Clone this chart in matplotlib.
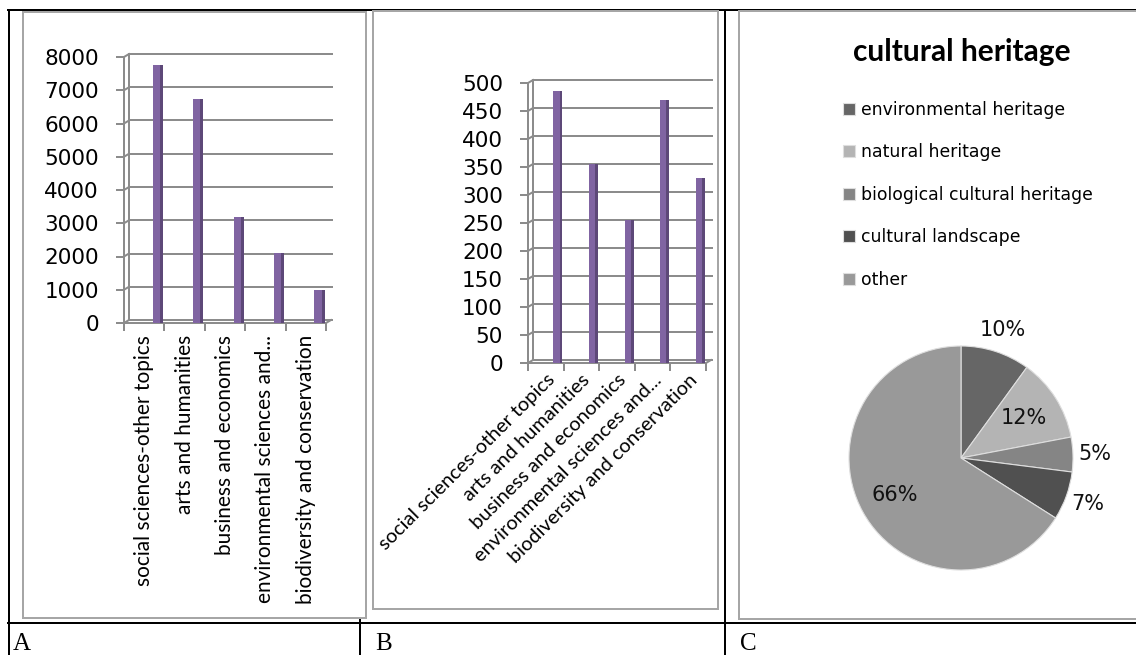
import matplotlib
matplotlib.use("Agg")
import matplotlib.pyplot as plt
from matplotlib.patches import Rectangle
from matplotlib.lines import Line2D
import numpy as np

# ---------------- data ----------------
categories = ["social sciences-other topics", "arts and humanities",
              "business and economics", "environmental sciences and...",
              "biodiversity and conservation"]
values_a = [7750, 6750, 3200, 2100, 1000]
values_b = [485, 355, 255, 470, 330]
yticks_a = [0, 1000, 2000, 3000, 4000, 5000, 6000, 7000, 8000]
yticks_b = [0, 50, 100, 150, 200, 250, 300, 350, 400, 450, 500]

pie_title = "cultural heritage"
pie_labels = ["environmental heritage", "natural heritage",
              "biological cultural heritage", "cultural landscape", "other"]
pie_values = [10, 12, 5, 7, 66]
pie_colors = ["#666666", "#b4b4b4", "#858585", "#505050", "#999999"]
pie_label_radius = [1.2, 0.66, 1.2, 1.2, 0.68]

panel_letters = ["A", "B", "C"]

# ---------------- layout helpers ----------------
W, H = 1136, 655
fig = plt.figure(figsize=(W / 100, H / 100), dpi=100)
fig.patch.set_facecolor("white")


def fx(x):
    return x / W


def fy(y):
    return 1 - y / H


def rect(l, t, r, b):
    return [l / W, 1 - b / H, (r - l) / W, (b - t) / H]


PT = 0.72  # points per pixel at dpi 100
GRID = "#8c8c8c"
FRAME = "#a6a6a6"

# ---------------- table lines ----------------
tbl = dict(color="black", lw=2 * PT, zorder=-5, transform=fig.transFigure)
fig.add_artist(Line2D([fx(8), fx(W)], [fy(10), fy(10)], **tbl))
fig.add_artist(Line2D([fx(9), fx(9)], [fy(10), fy(H)], **tbl))
fig.add_artist(Line2D([fx(360), fx(360)], [fy(10), fy(H)], **tbl))
fig.add_artist(Line2D([fx(725), fx(725)], [fy(10), fy(H)], **tbl))
fig.add_artist(Line2D([fx(8), fx(W)], [fy(623), fy(623)], **tbl))

# chart frames (white, gray edge)
for (l, t, r, b) in [(23, 12, 366, 618), (373, 11, 718, 609), (739, 11, W + 5, 619)]:
    fig.add_artist(Rectangle((fx(l), fy(b)), (r - l) / W, (b - t) / H,
                             transform=fig.transFigure, facecolor="white",
                             edgecolor=FRAME, lw=2 * PT, zorder=-4))

# panel letters
for letter, x in zip(panel_letters, [13, 375, 740]):
    fig.text(fx(x), fy(650), letter, family="Liberation Serif", fontsize=18,
             ha="left", va="baseline")


# ---------------- 3D-look bar panels ----------------
def bar_panel(box, values, yticks, rot):
    l, t, r, b = box
    ax = fig.add_axes(rect(l, t, r, b))
    ax.patch.set_alpha(0)
    n = len(values)
    x = np.arange(n)
    ymax = yticks[-1]
    ax.set_xlim(-0.5, n - 0.5)
    ax.set_ylim(0, ymax)
    # depth offset in data units (5 px right, 3 px up)
    dx = 5 / ((r - l) / n)
    dy = 3 / ((b - t) / ymax)
    # back wall gridlines
    for v in yticks:
        ax.plot([-0.5 + dx, n - 0.5 + dx + 0.03], [v + dy, v + dy], color=GRID,
                lw=2 * PT, clip_on=False, zorder=1)
        ax.plot([-0.5, -0.5 + dx], [v, v + dy], color=GRID, lw=2 * PT,
                clip_on=False, zorder=1)
    ax.plot([-0.5 + dx, -0.5 + dx], [dy, ymax + dy], color=GRID, lw=2 * PT,
            clip_on=False, zorder=1)
    ax.plot([n - 0.5, n - 0.5 + dx], [0, dy], color=GRID, lw=2 * PT,
            clip_on=False, zorder=1)
    # front axis lines via spines
    for s in ["top", "right"]:
        ax.spines[s].set_visible(False)
    for s in ["left", "bottom"]:
        ax.spines[s].set_color(GRID)
        ax.spines[s].set_linewidth(2 * PT)
    # bars (front face + darker side)
    w = 0.25
    off = 0.34
    ax.bar(x + off - w / 2, values, width=w * 0.7, align="edge",
           color="#8064A2", zorder=3, clip_on=False)
    ax.bar(x + off - w / 2 + w * 0.7, values, width=w * 0.3, align="edge",
           color="#5D4878", zorder=3, clip_on=False)
    # ticks
    ax.set_yticks(yticks)
    ax.set_yticklabels([str(v) for v in yticks])
    ax.tick_params(axis="y", length=8 * PT, width=2 * PT, color=GRID,
                   pad=17 * PT, labelsize=15.5, labelcolor="black")
    for lab in ax.get_yticklabels():
        lab.set_family("DejaVu Sans")
    ax.set_xticks(x)
    ax.set_xticks(np.arange(n + 1) - 0.5, minor=True)
    ax.tick_params(axis="x", which="major", length=0, pad=12 * PT)
    ax.tick_params(axis="x", which="minor", length=8 * PT, width=2 * PT,
                   color=GRID)
    if rot == 90:
        ax.set_xticklabels(categories, rotation=90, ha="center", va="top",
                           family="Lato", fontsize=15)
    else:
        ax.set_xticklabels(categories, rotation=45, ha="right", va="top",
                           rotation_mode="anchor", family="Lato", fontsize=14.4)
        ax.tick_params(axis="x", which="major", pad=8 * PT)
    return ax


bar_panel((124, 57, 326, 323), values_a, yticks_a, 90)
bar_panel((528, 83, 706, 363), values_b, yticks_b, 45)

# ---------------- pie panel ----------------
axp = fig.add_axes(rect(849, 346, 1073, 570))
wedges, _ = axp.pie(pie_values, colors=pie_colors, startangle=90,
                    counterclock=False, radius=1,
                    wedgeprops=dict(edgecolor="#dedede", linewidth=0.8))
axp.set_xlim(-1, 1)
axp.set_ylim(-1, 1)
for wdg, v, rr in zip(wedges, pie_values, pie_label_radius):
    ang = np.deg2rad((wdg.theta1 + wdg.theta2) / 2)
    axp.text(rr * np.cos(ang), rr * np.sin(ang), f"{v}%", ha="center",
             va="center", fontsize=15, family="DejaVu Sans", color="#111111",
             clip_on=False)

fig.text(fx(962), fy(52), pie_title, ha="center", va="center",
         family="Lato", fontweight="bold", fontsize=21.5)
axp.legend(wedges, pie_labels, loc="upper left",
           bbox_to_anchor=(fx(843), fy(101)), bbox_transform=fig.transFigure,
           frameon=False, handlelength=0.7, handleheight=0.7,
           handletextpad=0.35, labelspacing=1.42, borderpad=0,
           borderaxespad=0, prop=dict(family="DejaVu Sans", size=12.4))

fig.savefig("out.png", dpi=100, facecolor="white")
